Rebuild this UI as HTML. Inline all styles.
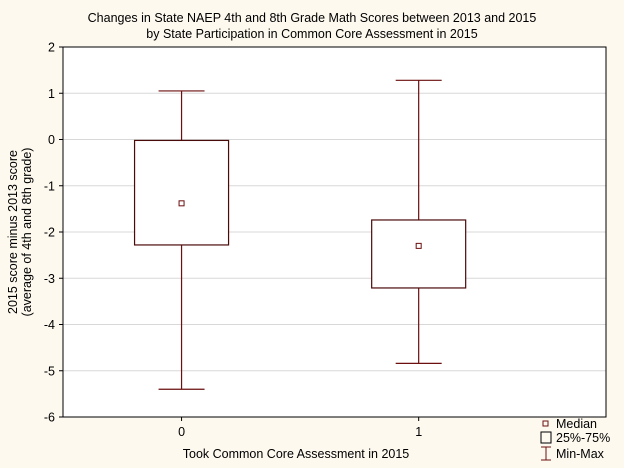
<!DOCTYPE html>
<html><head><meta charset="utf-8"><style>
body{margin:0;background:#fdf9ef;font-family:"Liberation Sans",sans-serif}
svg{display:block}
</style></head><body>
<svg width="624" height="468">
<rect width="624" height="468" fill="#fdf9ef"/>
<text x="312" y="22" font-size="12.5" text-anchor="middle" fill="#000">Changes in State NAEP 4th and 8th Grade Math Scores between 2013 and 2015</text>
<text x="312" y="38" font-size="12.5" text-anchor="middle" fill="#000">by State Participation in Common Core Assessment in 2015</text>
<rect x="63" y="47" width="543" height="370" fill="#fff"/>
<g id="grid"></g>
<g id="marks"></g>
<rect x="63" y="47" width="543" height="370" fill="none" stroke="#000" stroke-width="1"/>
<g id="axes" font-size="12.5"></g>
<text x="296" y="458" font-size="12.5" text-anchor="middle">Took Common Core Assessment in 2015</text>
<text transform="translate(17,232) rotate(-90)" font-size="12.5" text-anchor="middle">2015 score minus 2013 score</text>
<text transform="translate(31,232) rotate(-90)" font-size="12.5" text-anchor="middle">(average of 4th and 8th grade)</text>
<g font-size="12.5">
<rect x="543" y="421" width="5" height="5" fill="none" stroke="#6b0f0f"/>
<text x="556" y="428">Median</text>
<rect x="541" y="432" width="10" height="11" fill="none" stroke="#000"/>
<text x="556" y="442">25%-75%</text>
<path d="M541 447H551M546 447V460M541 460H551" stroke="#6b0f0f" fill="none"/>
<text x="556" y="458">Min-Max</text>
</g>
</svg>
<script>
const categories=["0","1"];
const medians=[-1.38,-2.30];
const q1s=[-2.28,-3.21];
const q3s=[-0.02,-1.74];
const mins=[-5.40,-4.84];
const maxs=[1.05,1.28];
const yTicks=[2,1,0,-1,-2,-3,-4,-5,-6];
const NS="http://www.w3.org/2000/svg";
const L=63,R=606,T=47,B=417,ymin=-6,ymax=2,xmin=-0.5,xmax=1.79;
const y=v=>T+(ymax-v)/(ymax-ymin)*(B-T);
const xc=i=>L+(i-xmin)/(xmax-xmin)*(R-L);
function mk(p,tag,a){const e=document.createElementNS(NS,tag);for(const k in a)e.setAttribute(k,a[k]);p.appendChild(e);return e;}
const grid=document.getElementById('grid'),marks=document.getElementById('marks'),axes=document.getElementById('axes');
yTicks.forEach(t=>{
 if(t<ymax&&t>ymin){const g=mk(grid,'line',{x1:L,x2:R,y1:y(t),y2:y(t),stroke:'#d8d8d8'});
 
 }
 const tk=mk(axes,'line',{x1:L-4,x2:L,y1:y(t),y2:y(t),stroke:'#000'});
 
 
 const tx=mk(axes,'text',{x:L-8,y:y(t)+4.5,'text-anchor':'end'});tx.textContent=t;
 
 
});
categories.forEach((c,i)=>{
 const x=xc(i),hw=47,cw=23;
 const w=mk(marks,'path',{d:`M${x-cw} ${y(maxs[i])}H${x+cw}M${x} ${y(maxs[i])}V${y(mins[i])}M${x-cw} ${y(mins[i])}H${x+cw}`,stroke:'#6b0f0f',fill:'none','stroke-width':1.2});
 
 
 const b=mk(marks,'rect',{x:x-hw,y:y(q3s[i]),width:hw*2,height:y(q1s[i])-y(q3s[i]),fill:'#fff',stroke:'#4a0a0a','stroke-width':1.2});
 
 
 const m=mk(marks,'rect',{x:x-2.5,y:y(medians[i])-2.5,width:5,height:5,fill:'#fff',stroke:'#6b0f0f'});
 
 
 const tk=mk(axes,'line',{x1:x,x2:x,y1:B,y2:B+4,stroke:'#000'});
 
 
 const tx=mk(axes,'text',{x:x,y:B+19,'text-anchor':'middle'});tx.textContent=c;
 
 
});
</script>
</body></html>
